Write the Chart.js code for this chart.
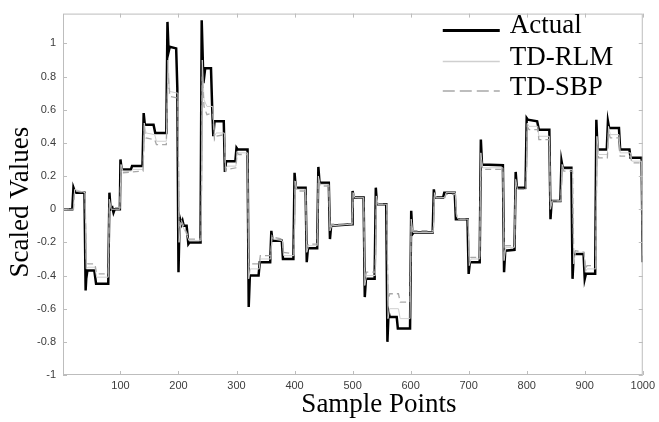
<!DOCTYPE html>
<html><head><meta charset="utf-8">
<script src="https://cdn.jsdelivr.net/npm/chart.js@4.4.1/dist/chart.umd.min.js"></script>
<style>html,body{margin:0;padding:0;background:#fff;}canvas{display:block;}</style>
</head><body>
<canvas id="c" width="659" height="422"></canvas>
<script>
const seriesNames = ['Actual', 'TD-RLM', 'TD-SBP'];

const actualX = [1,17,19,21,24,38,40,41,43,55,58,79,81,83,86,88,90,99,100,102,118,120,138,140,142,157,160,179,181,183,185,196,198,200,202,205,207,209,214,217,219,238,240,243,246,256,258,260,262,278,280,282,298,300,302,319,321,323,338,340,358,360,362,378,380,398,400,402,419,421,423,439,441,443,459,461,463,499,500,502,519,521,523,538,540,542,558,560,562,564,576,578,599,601,603,605,638,640,642,656,658,676,678,698,700,702,719,721,723,759,761,763,779,781,783,798,800,802,818,821,839,841,843,858,860,862,877,879,881,898,900,902,918,920,922,938,940,942,959,961,977,979,998,1000];
const actualY = [0,0,0.13,0.11,0.10,0.10,-0.49,-0.42,-0.37,-0.37,-0.45,-0.45,0.10,0.0,0.01,-0.02,0.0,0.0,0.30,0.24,0.24,0.26,0.26,0.58,0.51,0.51,0.46,0.46,1.13,0.95,0.98,0.97,0.73,-0.38,-0.05,-0.09,-0.07,-0.10,-0.10,-0.21,-0.20,-0.20,1.14,0.76,0.85,0.85,0.62,0.44,0.53,0.53,0.225,0.29,0.29,0.37,0.36,0.36,-0.59,-0.40,-0.40,-0.32,-0.32,-0.13,-0.19,-0.19,-0.30,-0.30,0.22,0.13,0.13,-0.32,-0.235,-0.235,0.255,0.16,0.16,-0.18,-0.10,-0.09,0.11,0.07,0.07,-0.53,-0.42,-0.42,0.13,0.03,0.03,-0.80,-0.62,-0.65,-0.65,-0.72,-0.72,-0.01,-0.15,-0.14,-0.14,0.12,0.07,0.07,0.10,0.10,-0.06,-0.06,-0.39,-0.32,-0.32,0.42,0.27,0.265,-0.38,-0.25,-0.245,0.225,0.13,0.13,0.55,0.54,0.53,0.48,0.48,-0.06,0.05,0.05,0.29,0.25,0.25,-0.42,-0.27,-0.27,-0.42,-0.39,-0.39,0.54,0.36,0.36,0.53,0.49,0.49,0.36,0.36,0.31,0.31,-0.32];

const rlmX = [1,19,21,39,41,44,56,59,79,81,84,99,101,104,119,121,139,141,144,159,162,179,182,185,199,201,204,215,218,239,241,244,249,259,262,265,279,281,284,299,301,304,319,321,324,339,341,359,361,364,379,381,399,401,404,419,421,424,439,441,444,459,461,464,499,501,504,519,521,524,539,541,544,559,561,564,579,582,599,601,604,639,641,644,659,661,677,679,682,699,701,704,719,721,724,759,761,764,779,781,784,799,801,804,819,821,839,841,844,859,861,864,879,881,884,899,901,904,919,921,924,939,941,944,959,961,979,981,998,1000];
const rlmY = [0,0,0.12,0.10,-0.36,-0.35,-0.35,-0.41,-0.41,0.06,0.0,0.0,0.27,0.23,0.23,0.24,0.24,0.52,0.46,0.45,0.41,0.41,0.90,0.71,0.70,-0.20,-0.08,-0.16,-0.19,-0.19,0.90,0.66,0.62,0.62,0.44,0.46,0.46,0.24,0.26,0.26,0.35,0.34,0.34,-0.42,-0.36,-0.36,-0.30,-0.30,-0.17,-0.18,-0.19,-0.28,-0.28,0.17,0.12,0.12,-0.26,-0.22,-0.22,0.20,0.15,0.15,-0.13,-0.10,-0.09,0.10,0.07,0.07,-0.46,-0.40,-0.40,0.08,0.03,0.03,-0.66,-0.60,-0.60,-0.66,-0.66,-0.06,-0.14,-0.14,0.10,0.07,0.07,0.10,0.10,-0.04,-0.06,-0.06,-0.34,-0.30,-0.30,0.34,0.25,0.25,-0.31,-0.23,-0.23,0.18,0.12,0.12,0.52,0.50,0.50,0.44,0.44,0.0,0.05,0.05,0.27,0.24,0.24,-0.33,-0.26,-0.26,-0.38,-0.36,-0.36,0.44,0.33,0.33,0.50,0.45,0.45,0.34,0.34,0.29,0.29,-0.28];

const sbpX = [1,19,21,39,41,44,56,59,79,81,84,99,101,104,139,141,144,159,162,179,182,185,199,201,205,215,218,239,241,244,249,259,262,265,279,281,284,299,301,304,319,321,324,339,341,359,361,364,379,381,399,401,404,419,421,424,439,441,444,459,461,464,499,501,504,519,521,524,539,541,544,559,561,564,579,582,599,601,604,639,641,644,659,661,677,679,682,699,701,704,719,721,724,759,761,764,779,781,784,799,801,804,819,821,839,841,844,859,861,864,879,881,884,899,901,904,919,921,924,939,941,944,959,961,979,981,998,1000];
const sbpY = [0,0,0.11,0.10,-0.30,-0.33,-0.33,-0.39,-0.39,0.04,0.01,0.01,0.25,0.22,0.23,0.48,0.43,0.42,0.39,0.39,0.82,0.68,0.67,-0.10,-0.07,-0.15,-0.18,-0.18,0.80,0.62,0.57,0.58,0.42,0.44,0.45,0.23,0.24,0.25,0.34,0.33,0.33,-0.35,-0.33,-0.33,-0.28,-0.28,-0.16,-0.17,-0.18,-0.26,-0.27,0.15,0.11,0.11,-0.23,-0.21,-0.21,0.18,0.14,0.14,-0.12,-0.09,-0.09,0.09,0.07,0.07,-0.42,-0.38,-0.38,0.06,0.03,0.03,-0.55,-0.51,-0.51,-0.56,-0.56,-0.10,-0.13,-0.13,0.09,0.07,0.07,0.09,0.09,-0.03,-0.06,-0.06,-0.30,-0.29,-0.29,0.30,0.24,0.24,-0.27,-0.22,-0.22,0.16,0.12,0.12,0.50,0.48,0.48,0.42,0.42,0.02,0.05,0.05,0.26,0.23,0.23,-0.28,-0.25,-0.26,-0.36,-0.34,-0.34,0.38,0.31,0.31,0.47,0.43,0.43,0.32,0.32,0.28,0.28,-0.25];

const xTicks = [100,200,300,400,500,600,700,800,900,1000];
const xTickLabels = ['100','200','300','400','500','600','700','800','900','1000'];
const yTicks = [-1,-0.8,-0.6,-0.4,-0.2,0,0.2,0.4,0.6,0.8,1];
const yTickLabels = ['-1','-0.8','-0.6','-0.4','-0.2','0','0.2','0.4','0.6','0.8','1'];
const xTitle = 'Sample Points';
const yTitle = 'Scaled Values';

function pts(xs, ys) { return xs.map((x, i) => ({x: x, y: ys[i]})); }

const SERIF = "'Liberation Serif', 'Times New Roman', serif";
const SANS = "'Liberation Sans', Arial, sans-serif";

const framePlugin = {
  id: 'frame',
  afterDatasetsDraw(chart) {
    const ctx = chart.ctx, a = chart.chartArea;
    const xs = chart.scales.x, ys = chart.scales.y;
    ctx.save();
    ctx.strokeStyle = '#bdbdbd';
    ctx.lineWidth = 1;
    ctx.setLineDash([]);
    ctx.strokeRect(a.left + 0.5, a.top + 0.5, a.right - a.left - 1, a.bottom - a.top - 1);
    ctx.beginPath();
    const tl = 4;
    xTicks.forEach(v => {
      const px = Math.round(xs.getPixelForValue(v)) + 0.5;
      ctx.moveTo(px, a.bottom); ctx.lineTo(px, a.bottom - tl);
      ctx.moveTo(px, a.top); ctx.lineTo(px, a.top + tl);
    });
    yTicks.forEach(v => {
      const py = Math.round(ys.getPixelForValue(v)) + 0.5;
      ctx.moveTo(a.left, py); ctx.lineTo(a.left + tl, py);
      ctx.moveTo(a.right, py); ctx.lineTo(a.right - tl, py);
    });
    ctx.stroke();
    ctx.restore();
  },
  afterDraw(chart) {
    const ctx = chart.ctx, a = chart.chartArea;
    ctx.save();
    ctx.fillStyle = '#000';
    ctx.font = '27px ' + SERIF;
    ctx.textAlign = 'center';
    ctx.textBaseline = 'alphabetic';
    ctx.fillText(xTitle, a.left + 316, 412);
    ctx.translate(28, a.top + 188.5);
    ctx.rotate(-Math.PI / 2);
    ctx.fillText(yTitle, 0, 0);
    ctx.restore();

    // legend
    ctx.save();
    const lx0 = a.right - 200, lx1 = a.right - 143, tx = a.right - 133;
    const rows = [30.5, 61.5, 91];
    const bases = [33, 65, 95];
    chart.data.datasets.forEach((ds, i) => {
      ctx.beginPath();
      ctx.strokeStyle = ds.borderColor;
      ctx.lineWidth = i === 0 ? 3 : (ds.borderWidth + 0.3);
      ctx.setLineDash(ds.borderDash ? [12, 5] : []);
      ctx.moveTo(lx0, rows[i]); ctx.lineTo(lx1, rows[i]);
      ctx.stroke();
      ctx.setLineDash([]);
      ctx.fillStyle = '#000';
      ctx.font = '27px ' + SERIF;
      ctx.textAlign = 'left';
      ctx.textBaseline = 'alphabetic';
      ctx.fillText(ds.label, tx, bases[i]);
    });
    ctx.restore();
  }
};

new Chart(document.getElementById('c').getContext('2d'), {
  type: 'line',
  data: {
    datasets: [
      {label: seriesNames[0], data: pts(actualX, actualY), borderColor: '#000000', borderWidth: 2.5, pointRadius: 0, tension: 0, order: 3},
      {label: seriesNames[1], data: pts(rlmX, rlmY), borderColor: '#cfcfcf', borderWidth: 1, pointRadius: 0, tension: 0, order: 2},
      {label: seriesNames[2], data: pts(sbpX, sbpY), borderColor: '#a8a8a8', borderWidth: 1.3, borderDash: [6, 4], pointRadius: 0, tension: 0, order: 1}
    ]
  },
  options: {
    responsive: false,
    animation: false,
    layout: {padding: {left: 0, right: 14, top: 4, bottom: 0}},
    plugins: {legend: {display: false}, tooltip: {enabled: false}},
    scales: {
      x: {
        type: 'linear', min: 1, max: 1000,
        afterBuildTicks: s => { s.ticks = xTicks.map(v => ({value: v})); },
        afterFit: s => { s.height = 47; },
        ticks: {callback: (v, i) => xTickLabels[i], font: {family: SANS, size: 11}, color: '#3c3c3c', padding: 4, maxRotation: 0, autoSkip: false},
        grid: {display: false, drawTicks: false},
        border: {display: false}
      },
      y: {
        type: 'linear', min: -1, max: 1.18,
        afterBuildTicks: s => { s.ticks = yTicks.map(v => ({value: v})); },
        afterFit: s => { s.width = 63; },
        ticks: {callback: (v, i) => yTickLabels[i], font: {family: SANS, size: 11}, color: '#3c3c3c', padding: 7, autoSkip: false},
        grid: {display: false, drawTicks: false},
        border: {display: false}
      }
    }
  },
  plugins: [framePlugin]
});
</script>
</body></html>
